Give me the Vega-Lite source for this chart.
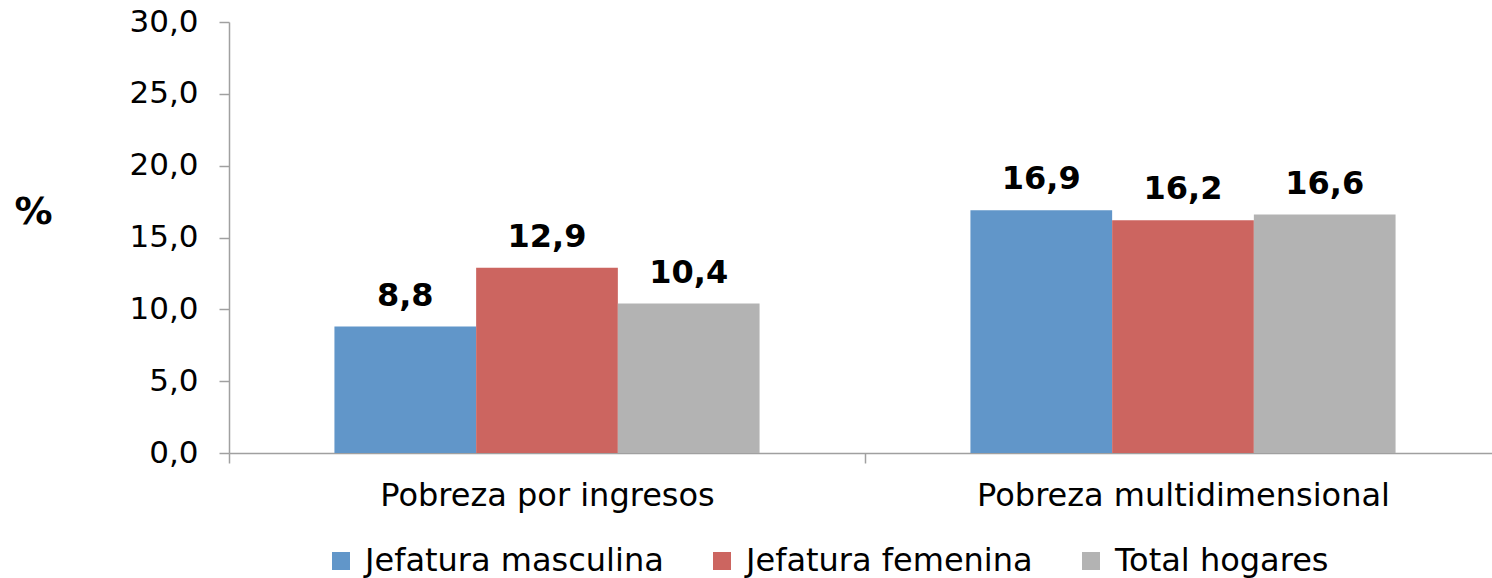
{
  "$schema": "https://vega.github.io/schema/vega-lite/v6.json",
  "autosize": "none",
  "width": 1272,
  "height": 431,
  "padding": {"left": 229, "top": 22, "right": 0, "bottom": 125},
  "config": {
    "locale": {"number": {"decimal": ",", "thousands": ".", "grouping": [3], "currency": ["", ""]}},
    "view": {"stroke": null},
    "font": "DejaVu Sans"
  },
  "data": {
    "values": [
      {"cat": "Pobreza por ingresos", "serie": "Jefatura masculina", "valor": 8.8},
      {"cat": "Pobreza por ingresos", "serie": "Jefatura femenina", "valor": 12.9},
      {"cat": "Pobreza por ingresos", "serie": "Total hogares", "valor": 10.4},
      {"cat": "Pobreza multidimensional", "serie": "Jefatura masculina", "valor": 16.9},
      {"cat": "Pobreza multidimensional", "serie": "Jefatura femenina", "valor": 16.2},
      {"cat": "Pobreza multidimensional", "serie": "Total hogares", "valor": 16.6}
    ]
  },
  "encoding": {
    "x": {
      "field": "cat", "type": "nominal",
      "sort": ["Pobreza por ingresos", "Pobreza multidimensional"],
      "scale": {"paddingInner": 0, "paddingOuter": 0},
      "axis": {
        "title": null, "labelAngle": 0, "labelFontSize": 32, "labelColor": "#000000",
        "labelLimit": 800,
        "labelPadding": 17, "tickBand": "extent", "tickSize": 10, "tickColor": "#A0A0A0",
        "tickWidth": 1.5, "domainColor": "#A0A0A0", "domainWidth": 1.5, "grid": false
      }
    },
    "xOffset": {
      "field": "serie", "type": "nominal",
      "sort": ["Jefatura masculina", "Jefatura femenina", "Total hogares"],
      "scale": {"paddingInner": 0, "paddingOuter": 0.744}
    },
    "y": {
      "field": "valor", "type": "quantitative",
      "scale": {"domain": [0, 30]},
      "axis": {
        "values": [0, 5, 10, 15, 20, 25, 30], "format": ".1f", "grid": false,
        "labelFontSize": 31, "labelColor": "#000000", "labelPadding": 21,
        "tickSize": 10, "tickColor": "#A0A0A0", "tickWidth": 1.5,
        "domainColor": "#A0A0A0", "domainWidth": 1.5,
        "title": "%", "titleAngle": 0, "titleFontSize": 38, "titleFontWeight": "bold",
        "titleColor": "#000000", "titleX": -196, "titleY": 190,
        "titleAlign": "center", "titleBaseline": "middle"
      }
    }
  },
  "layer": [
    {
      "mark": {"type": "bar"},
      "encoding": {
        "color": {
          "field": "serie", "type": "nominal",
          "sort": ["Jefatura masculina", "Jefatura femenina", "Total hogares"],
          "scale": {"domain": ["Jefatura masculina", "Jefatura femenina", "Total hogares"], "range": ["#6196C9", "#CC6560", "#B3B3B3"]},
          "legend": {
            "title": null, "orient": "none", "direction": "horizontal",
            "legendX": 96, "legendY": 523,
            "symbolType": "square", "symbolSize": 324, "symbolStrokeWidth": 0,
            "labelFontSize": 32, "labelColor": "#000000", "labelOffset": 8,
            "columnPadding": 42, "labelLimit": 500
          }
        }
      }
    },
    {
      "mark": {"type": "text", "fontSize": 32, "fontWeight": "bold", "color": "#000000", "baseline": "alphabetic", "dy": -21},
      "encoding": {
        "text": {"field": "valor", "type": "quantitative", "format": ".1f"}
      }
    }
  ]
}
